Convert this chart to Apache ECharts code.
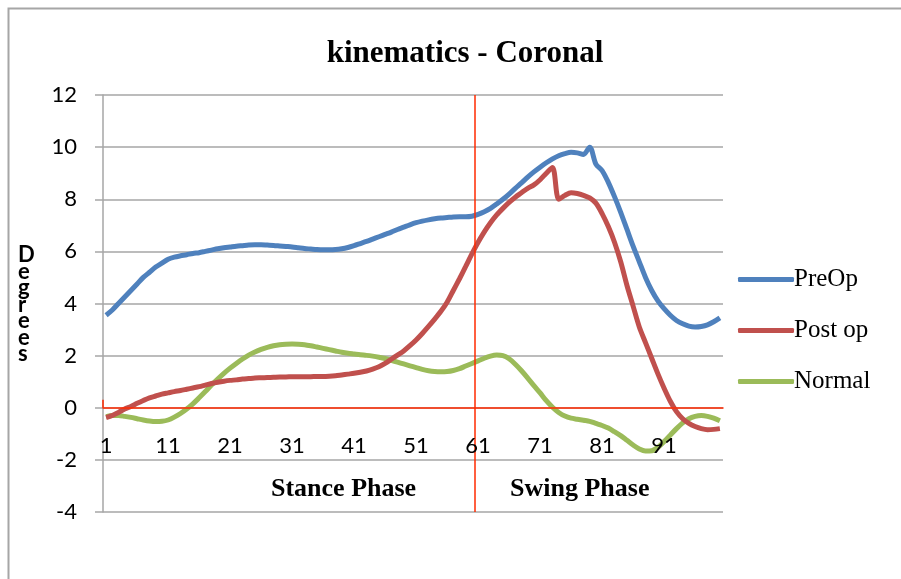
<!DOCTYPE html>
<html>
<head>
<meta charset="utf-8">
<script src="https://cdn.jsdelivr.net/npm/echarts@6/dist/echarts.min.js"></script>
<style>html,body{margin:0;padding:0;background:#fff}#c{width:901px;height:579px}</style>
</head>
<body>
<div id="c"></div>
<script>
var gaitPercent = [];
for (var k = 1; k <= 100; k++) gaitPercent.push(k);

var xTickLabels = [1, 11, 21, 31, 41, 51, 61, 71, 81, 91];

var preOp = [3.55,3.75,4.0,4.25,4.5,4.75,5.0,5.2,5.4,5.55,
5.7,5.78,5.83,5.87,5.92,5.95,6.0,6.05,6.1,6.14,
6.17,6.2,6.22,6.24,6.25,6.25,6.24,6.23,6.21,6.19,
6.17,6.14,6.11,6.09,6.07,6.06,6.06,6.07,6.1,6.15,
6.22,6.3,6.38,6.47,6.56,6.65,6.74,6.84,6.93,7.02,
7.1,7.16,7.21,7.25,7.28,7.3,7.32,7.33,7.33,7.35,
7.42,7.52,7.65,7.82,8.0,8.2,8.42,8.63,8.85,9.05,
9.23,9.4,9.55,9.67,9.75,9.8,9.78,9.72,10.0,9.35,
9.1,8.65,8.1,7.5,6.85,6.2,5.6,5.0,4.5,4.1,
3.8,3.55,3.35,3.22,3.13,3.1,3.12,3.18,3.3,3.45];

var postOp = [-0.38,-0.3,-0.18,-0.05,0.05,0.17,0.28,0.38,0.45,0.52,
0.57,0.62,0.66,0.71,0.76,0.81,0.87,0.93,0.98,1.02,
1.05,1.07,1.1,1.12,1.14,1.15,1.16,1.17,1.18,1.18,
1.19,1.19,1.19,1.19,1.2,1.2,1.21,1.23,1.26,1.29,
1.32,1.36,1.41,1.48,1.57,1.7,1.86,2.02,2.18,2.38,
2.6,2.85,3.12,3.4,3.7,4.05,4.5,4.95,5.42,5.9,
6.35,6.75,7.1,7.4,7.65,7.88,8.08,8.25,8.42,8.55,
8.75,9.0,9.22,8.0,8.15,8.25,8.22,8.15,8.05,7.85,
7.45,6.95,6.35,5.6,4.7,3.9,3.1,2.5,1.9,1.3,
0.75,0.25,-0.15,-0.42,-0.6,-0.72,-0.8,-0.84,-0.83,-0.8];

var normal = [-0.34,-0.3,-0.3,-0.33,-0.37,-0.42,-0.47,-0.51,-0.53,-0.52,
-0.47,-0.36,-0.22,-0.05,0.15,0.38,0.62,0.87,1.1,1.32,
1.52,1.7,1.87,2.02,2.14,2.24,2.32,2.38,2.42,2.44,
2.45,2.44,2.42,2.38,2.33,2.28,2.23,2.18,2.13,2.09,
2.06,2.03,2.01,1.98,1.94,1.89,1.82,1.75,1.68,1.61,
1.54,1.47,1.42,1.39,1.38,1.39,1.43,1.5,1.6,1.7,
1.8,1.9,1.98,2.02,2.0,1.88,1.67,1.42,1.14,0.85,
0.57,0.27,0.02,-0.18,-0.32,-0.4,-0.44,-0.48,-0.52,-0.6,
-0.68,-0.78,-0.92,-1.07,-1.25,-1.43,-1.58,-1.66,-1.65,-1.52,
-1.3,-1.05,-0.8,-0.58,-0.42,-0.33,-0.3,-0.33,-0.4,-0.5];

var phaseBoundary = 60.5;

function pairs(vals) {
  return gaitPercent.map(function (x, i) { return [x, vals[i]]; });
}

var chart = echarts.init(document.getElementById('c'));
var lw = 5;
chart.setOption({
  animation: false,
  backgroundColor: '#ffffff',
  title: {
    text: 'kinematics - Coronal',
    left: 460, top: 33, textAlign: 'center',
    textStyle: { fontFamily: 'Liberation Serif', fontWeight: 'bold', fontSize: 31, color: '#000' }
  },
  grid: { left: 103, right: 178, top: 95, bottom: 67 },
  legend: {
    orient: 'vertical', left: 733, top: 262,
    icon: 'roundRect', itemWidth: 56, itemHeight: 5, itemGap: 26,
    textStyle: { fontFamily: 'Liberation Serif', fontSize: 25, color: '#000', padding: [0, 0, 0, -5] },
    data: ['PreOp', 'Post op', 'Normal']
  },
  xAxis: {
    type: 'value', min: 0.5, max: 100.5,
    offset: -104.25, z: 10,
    axisLine: { onZero: false, lineStyle: { color: '#ff2a00', width: 1.5 } },
    axisTick: { show: true, inside: true, length: 8, customValues: [0.5], lineStyle: { color: '#ff2a00', width: 1.5 } },
    axisLabel: { customValues: xTickLabels, margin: 27, fontFamily: 'Lato', fontSize: 22, color: '#000' },
    splitLine: { show: false }
  },
  yAxis: {
    type: 'value', min: -4, max: 12, interval: 2,
    axisLine: { show: true, lineStyle: { color: '#a6a6a6', width: 1.5 } },
    axisTick: { show: true, length: 8, lineStyle: { color: '#a6a6a6', width: 1.5 } },
    axisLabel: { margin: 26, fontFamily: 'Lato', fontSize: 22, color: '#000' },
    splitLine: { show: true, lineStyle: { color: '#a6a6a6', width: 1.5 } }
  },
  graphic: [
    { type: 'rect', left: 6, top: 6, shape: { width: 1000, height: 1000 }, style: { fill: 'none', stroke: '#a6a6a6', lineWidth: 2 }, silent: true },
    { type: 'text', left: 18, top: 244, style: { text: 'D\ne\ng\nr\ne\ne\ns', fontFamily: 'Lato', fontWeight: 'bold', fontSize: 22, lineHeight: 16.5, fill: '#000', align: 'center' } },
    { type: 'text', left: 271, top: 476, style: { text: 'Stance Phase', fontFamily: 'Liberation Serif', fontWeight: 'bold', fontSize: 26, fill: '#000' } },
    { type: 'text', left: 510, top: 476, style: { text: 'Swing Phase', fontFamily: 'Liberation Serif', fontWeight: 'bold', fontSize: 26, fill: '#000' } }
  ],
  series: [
    { name: 'PreOp', type: 'line', data: pairs(preOp), smooth: 0.3, showSymbol: false, symbol: 'none',
      lineStyle: { color: '#4f81bd', width: lw }, itemStyle: { color: '#4f81bd' }, z: 4,
      markLine: { silent: true, symbol: 'none', label: { show: false },
        lineStyle: { color: '#ff2a00', width: 1.5, type: 'solid' },
        data: [{ xAxis: phaseBoundary }] } },
    { name: 'Post op', type: 'line', data: pairs(postOp), smooth: 0.3, showSymbol: false, symbol: 'none',
      lineStyle: { color: '#c0504d', width: lw }, itemStyle: { color: '#c0504d' }, z: 3 },
    { name: 'Normal', type: 'line', data: pairs(normal), smooth: 0.3, showSymbol: false, symbol: 'none',
      lineStyle: { color: '#9bbb59', width: lw }, itemStyle: { color: '#9bbb59' }, z: 2 }
  ]
});
</script>
</body>
</html>
